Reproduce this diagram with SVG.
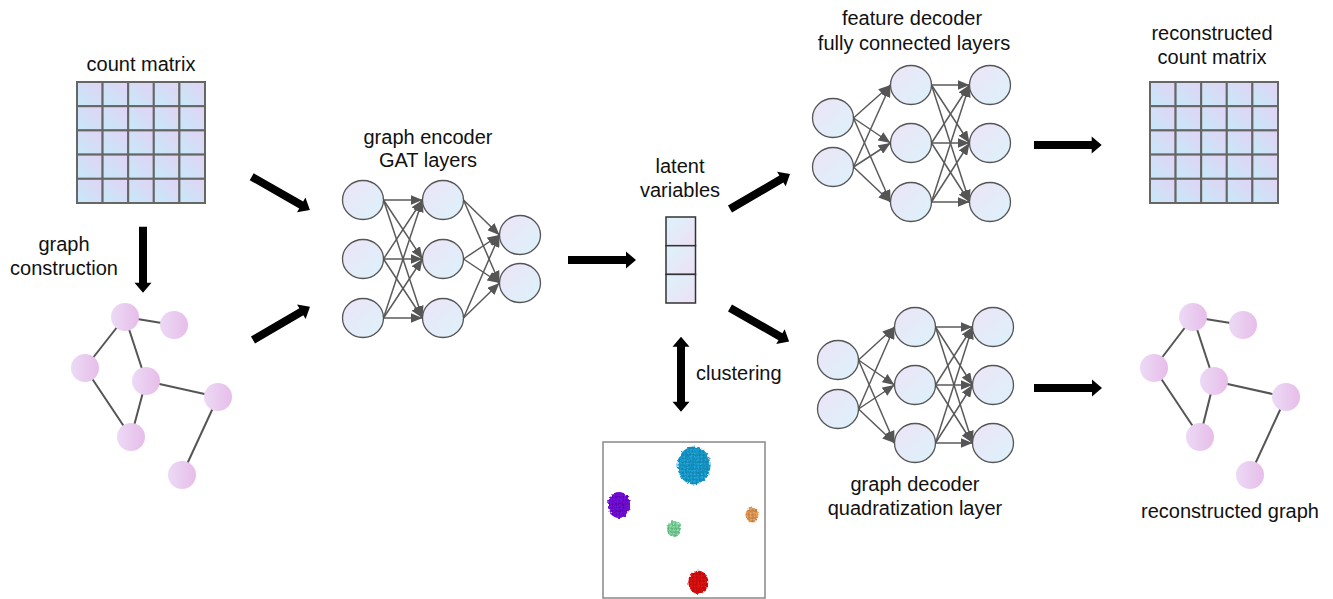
<svg xmlns="http://www.w3.org/2000/svg" width="1333" height="599" viewBox="0 0 1333 599">
<defs>
<linearGradient id="gCell" x1="0" y1="1" x2="1" y2="0"><stop offset="0" stop-color="#c5eaf8"/><stop offset="1" stop-color="#e3d2f4"/></linearGradient>
<linearGradient id="gNeur" x1="0" y1="0" x2="1" y2="1"><stop offset="0" stop-color="#ede4f6"/><stop offset="1" stop-color="#dcf2fb"/></linearGradient>
<linearGradient id="gGraph" x1="0" y1="0" x2="1" y2="0"><stop offset="0" stop-color="#ecdaf6"/><stop offset="1" stop-color="#e7bde9"/></linearGradient>
<linearGradient id="gLat" x1="0" y1="0" x2="1" y2="1"><stop offset="0" stop-color="#dcf3fb"/><stop offset="1" stop-color="#eedff5"/></linearGradient>
<marker id="ah" markerUnits="userSpaceOnUse" markerWidth="12" markerHeight="10" refX="12" refY="5" orient="auto"><path d="M0,0 L12,5 L0,10 z" fill="#555"/></marker>
<pattern id="sq" patternUnits="userSpaceOnUse" width="3.5" height="3.5"><rect x="0" y="0" width="3.5" height="3.5" fill="none" stroke="#000" stroke-opacity="0.35" stroke-width="0.7"/></pattern>
<filter id="rough" x="-30%" y="-30%" width="160%" height="160%">
<feTurbulence type="fractalNoise" baseFrequency="0.45" numOctaves="1" seed="3" result="n"/>
<feDisplacementMap in="SourceGraphic" in2="n" scale="4" xChannelSelector="R" yChannelSelector="G"/>
</filter>
</defs>
<style>
text{font-family:"Liberation Sans",Arial,sans-serif;font-size:20px;fill:#111}
.c{text-anchor:middle}
.cell{fill:url(#gCell);stroke:#666;stroke-width:2}
.neu{fill:url(#gNeur);stroke:#555;stroke-width:1.3}
.gn{fill:url(#gGraph)}
.ge{stroke:#555;stroke-width:2}
.ne{stroke:#5a5a5a;stroke-width:1.5;marker-end:url(#ah)}
.big{fill:#000}
</style>
<rect width="1333" height="599" fill="#fff"/>

<g id="count-matrix">
<text class="c" x="141" y="71">count matrix</text>
<g transform="translate(77,82)">
<rect class="cell" x="0" y="0" width="25.6" height="24.2"/><rect class="cell" x="25.6" y="0" width="25.6" height="24.2"/><rect class="cell" x="51.2" y="0" width="25.6" height="24.2"/><rect class="cell" x="76.8" y="0" width="25.6" height="24.2"/><rect class="cell" x="102.4" y="0" width="25.6" height="24.2"/>
<rect class="cell" x="0" y="24.2" width="25.6" height="24.2"/><rect class="cell" x="25.6" y="24.2" width="25.6" height="24.2"/><rect class="cell" x="51.2" y="24.2" width="25.6" height="24.2"/><rect class="cell" x="76.8" y="24.2" width="25.6" height="24.2"/><rect class="cell" x="102.4" y="24.2" width="25.6" height="24.2"/>
<rect class="cell" x="0" y="48.4" width="25.6" height="24.2"/><rect class="cell" x="25.6" y="48.4" width="25.6" height="24.2"/><rect class="cell" x="51.2" y="48.4" width="25.6" height="24.2"/><rect class="cell" x="76.8" y="48.4" width="25.6" height="24.2"/><rect class="cell" x="102.4" y="48.4" width="25.6" height="24.2"/>
<rect class="cell" x="0" y="72.6" width="25.6" height="24.2"/><rect class="cell" x="25.6" y="72.6" width="25.6" height="24.2"/><rect class="cell" x="51.2" y="72.6" width="25.6" height="24.2"/><rect class="cell" x="76.8" y="72.6" width="25.6" height="24.2"/><rect class="cell" x="102.4" y="72.6" width="25.6" height="24.2"/>
<rect class="cell" x="0" y="96.8" width="25.6" height="24.2"/><rect class="cell" x="25.6" y="96.8" width="25.6" height="24.2"/><rect class="cell" x="51.2" y="96.8" width="25.6" height="24.2"/><rect class="cell" x="76.8" y="96.8" width="25.6" height="24.2"/><rect class="cell" x="102.4" y="96.8" width="25.6" height="24.2"/>
</g>
</g>

<g id="recon-matrix">
<text class="c" x="1212" y="40">reconstructed</text>
<text class="c" x="1212" y="64">count matrix</text>
<g transform="translate(1150,82)">
<rect class="cell" x="0" y="0" width="25.6" height="24.2"/><rect class="cell" x="25.6" y="0" width="25.6" height="24.2"/><rect class="cell" x="51.2" y="0" width="25.6" height="24.2"/><rect class="cell" x="76.8" y="0" width="25.6" height="24.2"/><rect class="cell" x="102.4" y="0" width="25.6" height="24.2"/>
<rect class="cell" x="0" y="24.2" width="25.6" height="24.2"/><rect class="cell" x="25.6" y="24.2" width="25.6" height="24.2"/><rect class="cell" x="51.2" y="24.2" width="25.6" height="24.2"/><rect class="cell" x="76.8" y="24.2" width="25.6" height="24.2"/><rect class="cell" x="102.4" y="24.2" width="25.6" height="24.2"/>
<rect class="cell" x="0" y="48.4" width="25.6" height="24.2"/><rect class="cell" x="25.6" y="48.4" width="25.6" height="24.2"/><rect class="cell" x="51.2" y="48.4" width="25.6" height="24.2"/><rect class="cell" x="76.8" y="48.4" width="25.6" height="24.2"/><rect class="cell" x="102.4" y="48.4" width="25.6" height="24.2"/>
<rect class="cell" x="0" y="72.6" width="25.6" height="24.2"/><rect class="cell" x="25.6" y="72.6" width="25.6" height="24.2"/><rect class="cell" x="51.2" y="72.6" width="25.6" height="24.2"/><rect class="cell" x="76.8" y="72.6" width="25.6" height="24.2"/><rect class="cell" x="102.4" y="72.6" width="25.6" height="24.2"/>
<rect class="cell" x="0" y="96.8" width="25.6" height="24.2"/><rect class="cell" x="25.6" y="96.8" width="25.6" height="24.2"/><rect class="cell" x="51.2" y="96.8" width="25.6" height="24.2"/><rect class="cell" x="76.8" y="96.8" width="25.6" height="24.2"/><rect class="cell" x="102.4" y="96.8" width="25.6" height="24.2"/>
</g>
</g>

<g id="graph-construction-label">
<text class="c" x="64" y="251">graph</text>
<text class="c" x="64" y="275">construction</text>
</g>

<g id="input-graph">
<line class="ge" x1="125" y1="317" x2="174" y2="325"/>
<line class="ge" x1="125" y1="317" x2="85" y2="368"/>
<line class="ge" x1="125" y1="317" x2="146" y2="381"/>
<line class="ge" x1="85" y1="368" x2="131" y2="437"/>
<line class="ge" x1="146" y1="381" x2="131" y2="437"/>
<line class="ge" x1="146" y1="381" x2="218" y2="397"/>
<line class="ge" x1="218" y1="397" x2="182" y2="475"/>
<circle class="gn" cx="125" cy="317" r="14"/>
<circle class="gn" cx="174" cy="325" r="14"/>
<circle class="gn" cx="85" cy="368" r="14"/>
<circle class="gn" cx="146" cy="381" r="14"/>
<circle class="gn" cx="218" cy="397" r="14"/>
<circle class="gn" cx="131" cy="437" r="14"/>
<circle class="gn" cx="182" cy="475" r="14"/>
</g>

<g id="recon-graph">
<line class="ge" x1="1193" y1="317" x2="1243" y2="325"/>
<line class="ge" x1="1193" y1="317" x2="1154" y2="368"/>
<line class="ge" x1="1193" y1="317" x2="1214" y2="381"/>
<line class="ge" x1="1154" y1="368" x2="1200" y2="437"/>
<line class="ge" x1="1214" y1="381" x2="1200" y2="437"/>
<line class="ge" x1="1214" y1="381" x2="1286" y2="397"/>
<line class="ge" x1="1286" y1="397" x2="1250" y2="475"/>
<circle class="gn" cx="1193" cy="317" r="14"/>
<circle class="gn" cx="1243" cy="325" r="14"/>
<circle class="gn" cx="1154" cy="368" r="14"/>
<circle class="gn" cx="1214" cy="381" r="14"/>
<circle class="gn" cx="1286" cy="397" r="14"/>
<circle class="gn" cx="1200" cy="437" r="14"/>
<circle class="gn" cx="1250" cy="475" r="14"/>
<text class="c" x="1230" y="518">reconstructed graph</text>
</g>

<g id="graph-encoder">
<text class="c" x="428" y="144">graph encoder</text>
<text class="c" x="428" y="167">GAT layers</text>
<g>
<line class="ne" x1="383.5" y1="200" x2="422.5" y2="200"/><line class="ne" x1="383.5" y1="200" x2="422.5" y2="259"/><line class="ne" x1="383.5" y1="200" x2="422.5" y2="318"/>
<line class="ne" x1="383.5" y1="259" x2="422.5" y2="200"/><line class="ne" x1="383.5" y1="259" x2="422.5" y2="259"/><line class="ne" x1="383.5" y1="259" x2="422.5" y2="318"/>
<line class="ne" x1="383.5" y1="318" x2="422.5" y2="200"/><line class="ne" x1="383.5" y1="318" x2="422.5" y2="259"/><line class="ne" x1="383.5" y1="318" x2="422.5" y2="318"/>
<line class="ne" x1="463.5" y1="200" x2="499.5" y2="235"/><line class="ne" x1="463.5" y1="200" x2="499.5" y2="283"/>
<line class="ne" x1="463.5" y1="259" x2="499.5" y2="235"/><line class="ne" x1="463.5" y1="259" x2="499.5" y2="283"/>
<line class="ne" x1="463.5" y1="318" x2="499.5" y2="235"/><line class="ne" x1="463.5" y1="318" x2="499.5" y2="283"/>
</g>
<ellipse class="neu" cx="363" cy="200" rx="20.5" ry="19.5"/><ellipse class="neu" cx="363" cy="259" rx="20.5" ry="19.5"/><ellipse class="neu" cx="363" cy="318" rx="20.5" ry="19.5"/>
<ellipse class="neu" cx="443" cy="200" rx="20.5" ry="19.5"/><ellipse class="neu" cx="443" cy="259" rx="20.5" ry="19.5"/><ellipse class="neu" cx="443" cy="318" rx="20.5" ry="19.5"/>
<ellipse class="neu" cx="520" cy="235" rx="20.5" ry="19.5"/><ellipse class="neu" cx="520" cy="283" rx="20.5" ry="19.5"/>
</g>

<g id="latent-variables">
<text class="c" x="680" y="173">latent</text>
<text class="c" x="680" y="197">variables</text>
<rect x="666" y="217" width="29.5" height="28.7" fill="url(#gLat)" stroke="#333" stroke-width="1.5"/>
<rect x="666" y="245.7" width="29.5" height="28.7" fill="url(#gLat)" stroke="#333" stroke-width="1.5"/>
<rect x="666" y="274.4" width="29.5" height="28.6" fill="url(#gLat)" stroke="#333" stroke-width="1.5"/>
</g>

<g id="clustering-label">
<text x="696" y="380">clustering</text>
</g>

<g id="cluster-plot">
<rect x="603" y="442" width="162" height="156" fill="#fff" stroke="#888" stroke-width="1.5"/>
<g filter="url(#rough)">
<ellipse cx="694" cy="465.5" rx="16.5" ry="19" fill="#1aa9df"/>
<ellipse cx="694" cy="465.5" rx="16.5" ry="19" fill="url(#sq)"/>
<ellipse cx="619" cy="505" rx="11" ry="13" fill="#7a08e8"/>
<ellipse cx="619" cy="505" rx="11" ry="13" fill="url(#sq)"/>
<ellipse cx="752" cy="515" rx="6.5" ry="7.5" fill="#f4a65e"/>
<ellipse cx="752" cy="515" rx="6.5" ry="7.5" fill="url(#sq)"/>
<ellipse cx="674" cy="529" rx="7" ry="8" fill="#84e4a6"/>
<ellipse cx="674" cy="529" rx="7" ry="8" fill="url(#sq)"/>
<ellipse cx="698.3" cy="582.3" rx="10" ry="11.5" fill="#ee1212"/>
<ellipse cx="698.3" cy="582.3" rx="10" ry="11.5" fill="url(#sq)"/>
</g>
</g>

<g id="feature-decoder">
<text class="c" x="912" y="25">feature decoder</text>
<text class="c" x="914" y="50">fully connected layers</text>
<g>
<line class="ne" x1="853.5" y1="118" x2="890.5" y2="85"/><line class="ne" x1="853.5" y1="118" x2="890.5" y2="143"/><line class="ne" x1="853.5" y1="118" x2="890.5" y2="202"/>
<line class="ne" x1="853.5" y1="167" x2="890.5" y2="85"/><line class="ne" x1="853.5" y1="167" x2="890.5" y2="143"/><line class="ne" x1="853.5" y1="167" x2="890.5" y2="202"/>
<line class="ne" x1="931.5" y1="85" x2="969.5" y2="85"/><line class="ne" x1="931.5" y1="85" x2="969.5" y2="143"/><line class="ne" x1="931.5" y1="85" x2="969.5" y2="202"/>
<line class="ne" x1="931.5" y1="143" x2="969.5" y2="85"/><line class="ne" x1="931.5" y1="143" x2="969.5" y2="143"/><line class="ne" x1="931.5" y1="143" x2="969.5" y2="202"/>
<line class="ne" x1="931.5" y1="202" x2="969.5" y2="85"/><line class="ne" x1="931.5" y1="202" x2="969.5" y2="143"/><line class="ne" x1="931.5" y1="202" x2="969.5" y2="202"/>
</g>
<ellipse class="neu" cx="833" cy="118" rx="20.5" ry="19.5"/><ellipse class="neu" cx="833" cy="167" rx="20.5" ry="19.5"/>
<ellipse class="neu" cx="911" cy="85" rx="20.5" ry="19.5"/><ellipse class="neu" cx="911" cy="143" rx="20.5" ry="19.5"/><ellipse class="neu" cx="911" cy="202" rx="20.5" ry="19.5"/>
<ellipse class="neu" cx="990" cy="85" rx="20.5" ry="19.5"/><ellipse class="neu" cx="990" cy="143" rx="20.5" ry="19.5"/><ellipse class="neu" cx="990" cy="202" rx="20.5" ry="19.5"/>
</g>

<g id="graph-decoder">
<text class="c" x="915" y="491">graph decoder</text>
<text class="c" x="915" y="515">quadratization layer</text>
<g>
<line class="ne" x1="858.5" y1="360" x2="894.5" y2="327"/><line class="ne" x1="858.5" y1="360" x2="894.5" y2="385"/><line class="ne" x1="858.5" y1="360" x2="894.5" y2="443"/>
<line class="ne" x1="858.5" y1="409" x2="894.5" y2="327"/><line class="ne" x1="858.5" y1="409" x2="894.5" y2="385"/><line class="ne" x1="858.5" y1="409" x2="894.5" y2="443"/>
<line class="ne" x1="935.5" y1="327" x2="972.5" y2="327"/><line class="ne" x1="935.5" y1="327" x2="972.5" y2="385"/><line class="ne" x1="935.5" y1="327" x2="972.5" y2="443"/>
<line class="ne" x1="935.5" y1="385" x2="972.5" y2="327"/><line class="ne" x1="935.5" y1="385" x2="972.5" y2="385"/><line class="ne" x1="935.5" y1="385" x2="972.5" y2="443"/>
<line class="ne" x1="935.5" y1="443" x2="972.5" y2="327"/><line class="ne" x1="935.5" y1="443" x2="972.5" y2="385"/><line class="ne" x1="935.5" y1="443" x2="972.5" y2="443"/>
</g>
<ellipse class="neu" cx="838" cy="360" rx="20.5" ry="19.5"/><ellipse class="neu" cx="838" cy="409" rx="20.5" ry="19.5"/>
<ellipse class="neu" cx="915" cy="327" rx="20.5" ry="19.5"/><ellipse class="neu" cx="915" cy="385" rx="20.5" ry="19.5"/><ellipse class="neu" cx="915" cy="443" rx="20.5" ry="19.5"/>
<ellipse class="neu" cx="993" cy="327" rx="20.5" ry="19.5"/><ellipse class="neu" cx="993" cy="385" rx="20.5" ry="19.5"/><ellipse class="neu" cx="993" cy="443" rx="20.5" ry="19.5"/>
</g>

<g id="connectors">
<path class="big" transform="translate(251.7,176.7) rotate(29.7)" d="M0,-4 H57 V-8.5 L67,0 L57,8.5 V4 H0 z"/>
<path class="big" transform="translate(253,340) rotate(-30.3)" d="M0,-4 H56 V-8.5 L66,0 L56,8.5 V4 H0 z"/>
<path class="big" transform="translate(143,226.7) rotate(90)" d="M0,-4 H56 V-8.5 L66,0 L56,8.5 V4 H0 z"/>
<path class="big" transform="translate(568,260)" d="M0,-4 H58 V-8.5 L68,0 L58,8.5 V4 H0 z"/>
<path class="big" transform="translate(730,209) rotate(-30.3)" d="M0,-4 H59.5 V-8.5 L69.5,0 L59.5,8.5 V4 H0 z"/>
<path class="big" transform="translate(730,308) rotate(29.6)" d="M0,-4 H58 V-8.5 L68,0 L58,8.5 V4 H0 z"/>
<path class="big" transform="translate(681,336.7) rotate(90)" d="M0,0 L10,-8.5 V-4 H65 V-8.5 L75,0 L65,8.5 V4 H10 V8.5 z"/>
<path class="big" transform="translate(1034,145)" d="M0,-4 H57.7 V-8.5 L67.7,0 L57.7,8.5 V4 H0 z"/>
<path class="big" transform="translate(1034,388)" d="M0,-4 H58 V-8.5 L68,0 L58,8.5 V4 H0 z"/>
</g>
</svg>
